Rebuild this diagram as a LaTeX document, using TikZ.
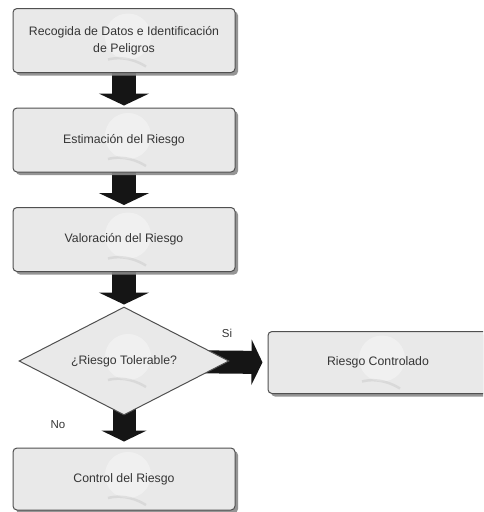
\documentclass[tikz,border=0pt]{standalone}
\usepackage{fontspec}
\setmainfont{Liberation Sans}
\usetikzlibrary{shapes.geometric,arrows.meta,shadows,calc}
\definecolor{boxfill}{HTML}{E9E9E9}
\definecolor{boxline}{HTML}{505050}
\definecolor{shadowc}{HTML}{8A8A8A}
\definecolor{arrowc}{HTML}{151515}
\definecolor{textc}{HTML}{353535}
\pgfdeclarelayer{back}
\pgfsetlayers{back,main}
\tikzset{
  swirlmark/.style={path picture={
      \fill[white, opacity=.35] ($(path picture bounding box.center)+(4,-4)$) circle (23);
      \draw[gray, opacity=.15, line width=2.5pt]
        ($(path picture bounding box.center)+(-16,19)$) .. controls
        ($(path picture bounding box.center)+(0,15)$) and
        ($(path picture bounding box.center)+(14,21)$) ..
        ($(path picture bounding box.center)+(22,26)$);
  }},
  stepbox/.style={draw=boxline, line width=1pt, fill=boxfill, rounded corners=4pt,
    minimum width=222pt, minimum height=64pt, inner sep=2pt, align=center,
    text=textc, font=\fontsize{12.3}{17}\selectfont, swirlmark,
    drop shadow={shadow xshift=3pt, shadow yshift=-3pt, fill=shadowc, opacity=.9}},
  decision/.style={diamond, draw=boxline, line width=1pt, fill=boxfill,
    aspect=1.95, inner sep=0pt, minimum width=210pt, minimum height=108pt,
    text=textc, font=\fontsize{12.3}{14}\selectfont, swirlmark},
  flowarrow/.style={line width=24pt, draw=arrowc, -{Triangle[length=12pt, width=50pt]}},
  sidearrow/.style={line width=23pt, draw=arrowc, -{Triangle[length=11pt, width=45pt]}},
  branchlabel/.style={text=textc, font=\fontsize{11.5}{13}\selectfont}
}
\begin{document}
\begin{tikzpicture}[x=1pt, y=-1pt]
  \begin{pgfonlayer}{back}
    \fill[white] (0,0) rectangle (483,512);
  \end{pgfonlayer}
  \useasboundingbox (0,0) rectangle (483,512);
  \clip (0,0) rectangle (483,512);

  % process steps
  \node[stepbox] (b1) at (124,40.5) {Recogida de Datos e Identificación\\de Peligros};
  \node[stepbox] (b2) at (124,140) {Estimación del Riesgo};
  \node[stepbox] (b3) at (124,239.5) {Valoración del Riesgo};
  \node[decision] (d) at (124,361) {¿Riesgo Tolerable?};
  \node[stepbox, minimum width=220pt, minimum height=62pt] (rc) at (378,362.5) {Riesgo Controlado};
  \node[stepbox, minimum height=62pt] (b5) at (124,479) {Control del Riesgo};

  % block arrows behind the shapes
  \begin{pgfonlayer}{back}
    \draw[flowarrow, shorten >=2pt] (b1.center) -- (b2.north);
    \draw[flowarrow, shorten >=2pt] (b2.center) -- (b3.north);
    \draw[flowarrow, shorten >=2pt] (b3.center) -- (d.north);
    \draw[sidearrow, shorten >=5pt] (d.center) -- (rc.west);
    \draw[sidearrow, shorten >=6pt] (d.center) -- (b5.north);
  \end{pgfonlayer}

  % branch labels
  \node[branchlabel] (si) at (227,333) {Si};
  \node[branchlabel] (no) at (58,425) {No};
\end{tikzpicture}
\end{document}
